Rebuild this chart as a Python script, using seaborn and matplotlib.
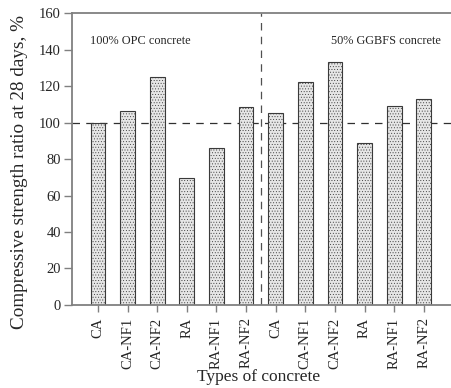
import matplotlib
matplotlib.use("Agg")
import matplotlib.pyplot as plt
import seaborn as sns
import pandas as pd

# Compressive strength ratio at 28 days (%), relative to CA in 100% OPC concrete
types = ["CA", "CA-NF1", "CA-NF2", "RA", "RA-NF1", "RA-NF2"]
opc_values = [100.0, 106.5, 125.0, 69.5, 86.0, 108.5]
ggbfs_values = [105.5, 122.5, 133.0, 89.0, 109.0, 113.0]
groups = ["100% OPC concrete", "50% GGBFS concrete"]

rows = []
for grp, vals in zip(groups, [opc_values, ggbfs_values]):
    for t, v in zip(types, vals):
        rows.append({"key": f"{grp} | {t}", "type": t, "group": grp, "value": v})
df = pd.DataFrame(rows)

sns.set_theme(style="white")
plt.rcParams["font.family"] = ["Liberation Serif", "DejaVu Serif"]
plt.rcParams["hatch.color"] = "#a6a6a6"
plt.rcParams["hatch.linewidth"] = 0.35

fig = plt.figure(figsize=(4.52, 3.88), dpi=100)
ax = fig.add_axes([0.159, 0.214, 0.841, 0.752])

sns.barplot(data=df, x="key", y="value", order=list(df["key"]), ax=ax,
            color="#e6e6e6", width=0.5, edgecolor="#3a3a3a", linewidth=0.8,
            saturation=1)
for p in ax.patches:
    p.set_hatch("......")

ax.set_ylim(0, 160)
ax.set_xlim(-0.88, 11.95)
ax.set_yticks(range(0, 161, 20))
ax.set_xticks(range(len(df)))
ax.set_xticklabels(df["type"], rotation=90, fontsize=10.5)
ax.tick_params(axis="y", labelsize=10.5, direction="out", length=6, width=1,
               color="#808080", left=True, pad=2)
ax.tick_params(axis="x", direction="out", length=5, width=1, color="#808080",
               bottom=True, pad=4)

ax.axhline(100, color="#303030", linestyle=(0, (6, 5)), linewidth=0.9, zorder=0)
ax.axvline(5.5, color="#505050", linestyle=(0, (6, 5)), linewidth=0.9, zorder=0)

ax.text(-0.27, 145, groups[0], fontsize=8.8, va="center", ha="left")
ax.text(7.85, 145, groups[1], fontsize=8.8, va="center", ha="left")

ax.set_xlabel("Types of concrete", fontsize=12.5, va="center")
ax.xaxis.set_label_coords(0.49, -0.247)
ax.set_ylabel("Compressive strength ratio at 28 days, %", fontsize=13.8, va="center")
ax.yaxis.set_label_coords(-0.137, 0.455)

for side in ["left", "bottom", "top"]:
    ax.spines[side].set_color("#808080")
    ax.spines[side].set_linewidth(1.3)
ax.spines["right"].set_visible(False)

fig.savefig("out.png", dpi=100)
